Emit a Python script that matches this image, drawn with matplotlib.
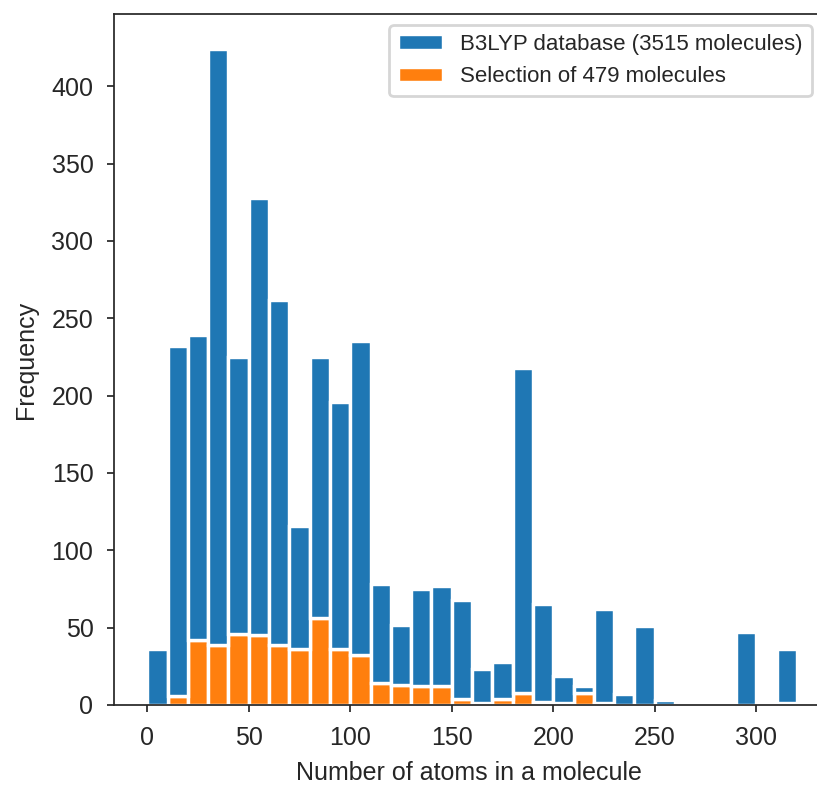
import numpy as np
import matplotlib
matplotlib.use("Agg")
import matplotlib.pyplot as plt
from matplotlib.patches import Patch

# Histogram bins (number of atoms), width 10
bin_edges = np.arange(0, 330, 10)

# Counts per bin for the whole database (top of each stacked bar)
database_counts = [36, 232, 239, 424, 225, 328, 262, 116, 225, 196,
                   235, 78, 52, 75, 77, 68, 23, 28, 218, 65,
                   19, 12, 62, 7, 51, 3, 0, 0, 0, 47,
                   0, 36]

# Counts per bin for the selected subset
selection_counts = [0, 6, 42, 39, 46, 45, 39, 36, 56, 36,
                    32, 14, 13, 12, 12, 4, 1, 4, 8, 2,
                    1, 8, 1, 0, 0, 0, 0, 0, 0, 0,
                    0, 1]

x_ticks = [0, 50, 100, 150, 200, 250, 300]
y_ticks = [0, 50, 100, 150, 200, 250, 300, 350, 400]
legend_labels = ["B3LYP database (3515 molecules)", "Selection of 479 molecules"]
x_label = "Number of atoms in a molecule"
y_label = "Frequency"

dark = "#262626"
blue = "#1f77b4"
orange = "#ff7f0e"

plt.rcParams.update({
    "font.family": ["Liberation Sans", "DejaVu Sans"],
    "text.color": dark,
    "axes.labelcolor": dark,
    "xtick.color": dark,
    "ytick.color": dark,
    "axes.edgecolor": dark,
})

W, H = 817, 787
fig = plt.figure(figsize=(W / 100, H / 100), dpi=100)
left, right, bottom, top = 114.3, 823.0, 705.0, 14.0
ax = fig.add_axes([left / W, (H - bottom) / H, (right - left) / W, (bottom - top) / H])

lefts = bin_edges[:-1]
widths = np.diff(bin_edges)
sel = np.array(selection_counts)
tot = np.array(database_counts)

edge_kw = dict(align="edge", edgecolor="white", linewidth=2.45)
ax.bar(lefts, sel, width=widths, color=orange, **edge_kw)
ax.bar(lefts, tot - sel, width=widths, bottom=sel, color=blue, **edge_kw)

ax.set_xlim(-16.26, 332.9)
ax.set_ylim(0, 446.7)
ax.set_xticks(x_ticks)
ax.set_yticks(y_ticks)
ax.tick_params(axis="both", direction="out", length=5, width=1.25,
               labelsize=18, pad=10)
for side in ("left", "bottom", "top", "right"):
    ax.spines[side].set_linewidth(1.25)

ax.set_xlabel(x_label, fontsize=18, labelpad=8)
ax.set_ylabel(y_label, fontsize=18, labelpad=10)

handles = [Patch(facecolor=blue, edgecolor="white", linewidth=2.45),
           Patch(facecolor=orange, edgecolor="white", linewidth=2.45)]
leg = ax.legend(handles, legend_labels, loc="upper right", fontsize=16,
                frameon=True, fancybox=True, framealpha=0.8,
                edgecolor="0.8", borderaxespad=0.5)
leg.get_frame().set_linewidth(2.0)

fig.savefig("out.png", dpi=100)
